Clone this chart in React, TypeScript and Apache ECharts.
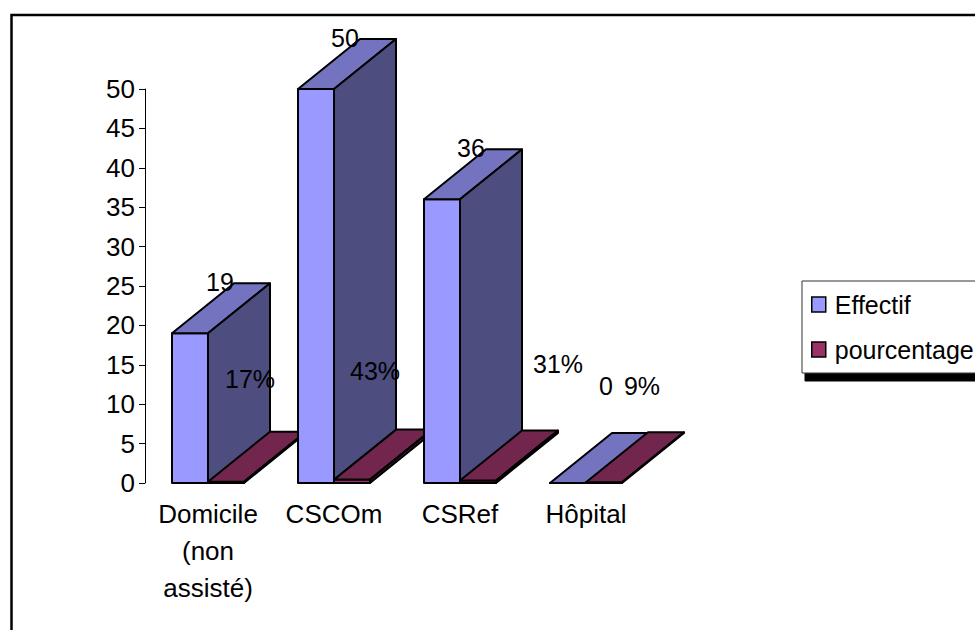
import React, { useEffect, useRef } from "react";
import * as echarts from "echarts";

const categories = ["Domicile\n(non\nassisté)", "CSCOm", "CSRef", "Hôpital"];
const effectif = [19, 50, 36, 0];
const pourcentage = [0.17, 0.43, 0.31, 0.09];
const yTicks = { min: 0, max: 50, interval: 5 };

// Hand-placed label offsets from the top centre of each bar's front face.
const effectifLabelOffsets = [[30, -51], [29, -51], [29, -51], [38, -97]];
const pourcentageLabelOffsets = [[24, -103], [23, -109], [80, -117], [38, -96]];

const FONT = "'Liberation Sans', Arial, sans-serif";
const LABEL_SIZE = 25;
const AXIS_SIZE = 26;
const LEGEND_SIZE = 25;
const DEPTH_X = 62;
const DEPTH_Y = -50;
const BAR_SHARE = 2 / 7;
const STROKE = { stroke: "#000", lineWidth: 2, lineJoin: "round" };

const palette = [
  { front: "#9999FF", top: "#7373BF", side: "#4D4D80" },
  { front: "#993366", top: "#73264D", side: "#4D1A33" },
];

// Draws one extruded bar; z2 keeps categories painted left to right across both series.
const bar3d = (seriesIndex: number, offsets: number[][], format: (v: number) => string) =>
  (params: any, api: any) => {
    const cat = api.value(0);
    const value = api.value(1);
    const band = api.size([1, 0])[0];
    const w = band * BAR_SHARE;
    const [cx, y] = api.coord([cat, value]);
    const [, y0] = api.coord([cat, 0]);
    const x = cx - w + seriesIndex * w;
    const colors = palette[seriesIndex];
    const z2 = cat * 10 + seriesIndex;
    const [ox, oy] = offsets[params.dataIndex];
    const poly = (points: number[][], fill: string) => ({
      type: "polygon",
      z2,
      shape: { points },
      style: { ...STROKE, fill },
    });
    return {
      type: "group",
      children: [
        poly([[x, y], [x + w, y], [x + w, y0], [x, y0]], colors.front),
        poly(
          [[x, y], [x + w, y], [x + w + DEPTH_X, y + DEPTH_Y], [x + DEPTH_X, y + DEPTH_Y]],
          colors.top
        ),
        poly(
          [[x + w, y], [x + w + DEPTH_X, y + DEPTH_Y], [x + w + DEPTH_X, y0 + DEPTH_Y], [x + w, y0]],
          colors.side
        ),
        {
          type: "text",
          z2: 100,
          x: x + w / 2 + ox,
          y: y + oy,
          style: {
            text: format(value),
            fill: "#000",
            font: `${LABEL_SIZE}px ${FONT}`,
            align: "center",
            verticalAlign: "middle",
          },
        },
      ],
    };
  };

export default function App() {
  const ref = useRef<HTMLDivElement>(null);
  useEffect(() => {
    const chart = echarts.init(ref.current!, null, { renderer: "svg" });
    chart.setOption({
      animation: false,
      backgroundColor: "#fff",
      textStyle: { fontFamily: FONT },
      grid: { left: 145, top: 89, width: 504, height: 394 },
      graphic: [
        {
          type: "rect",
          z: 0,
          shape: { x: 11.5, y: 15, width: 1000, height: 700 },
          style: { fill: "none", stroke: "#000", lineWidth: 2.5 },
        },
      ],
      legend: {
        left: 802,
        top: 281,
        orient: "vertical",
        selectedMode: false,
        icon: "rect",
        itemWidth: 14,
        itemHeight: 15,
        itemGap: 20,
        padding: [11, 2, 11, 9],
        backgroundColor: "#fff",
        borderColor: "#333",
        borderWidth: 1,
        shadowColor: "#000",
        shadowBlur: 0,
        shadowOffsetX: 3,
        shadowOffsetY: 8,
        itemStyle: { borderColor: "#000", borderWidth: 1.5 },
        textStyle: { fontSize: LEGEND_SIZE, color: "#000", padding: [0, 0, 5, 4] },
        data: ["Effectif", "pourcentage"],
      },
      xAxis: {
        type: "category",
        data: categories,
        axisLine: { show: false },
        axisTick: { show: false },
        axisLabel: {
          interval: 0,
          color: "#000",
          fontSize: AXIS_SIZE,
          lineHeight: 37,
          margin: 12,
        },
      },
      yAxis: {
        type: "value",
        ...yTicks,
        splitLine: { show: false },
        axisLine: { show: true, lineStyle: { color: "#000", width: 1 } },
        axisTick: { show: true, length: 6, lineStyle: { color: "#000", width: 1 } },
        axisLabel: { color: "#000", fontSize: AXIS_SIZE, margin: 10 },
      },
      series: [
        {
          type: "custom",
          name: "Effectif",
          itemStyle: { color: palette[0].front },
          encode: { x: 0, y: 1 },
          data: effectif.map((v, i) => [i, v]),
          renderItem: bar3d(0, effectifLabelOffsets, (v) => String(v)),
        },
        {
          type: "custom",
          name: "pourcentage",
          itemStyle: { color: palette[1].front },
          encode: { x: 0, y: 1 },
          data: pourcentage.map((v, i) => [i, v]),
          renderItem: bar3d(1, pourcentageLabelOffsets, (v) => `${Math.round(v * 100)}%`),
        },
      ],
    });
    return () => chart.dispose();
  }, []);
  return (
    <div
      ref={ref}
      style={{ position: "absolute", left: 0, top: 0, width: 975, height: 630 }}
    />
  );
}
